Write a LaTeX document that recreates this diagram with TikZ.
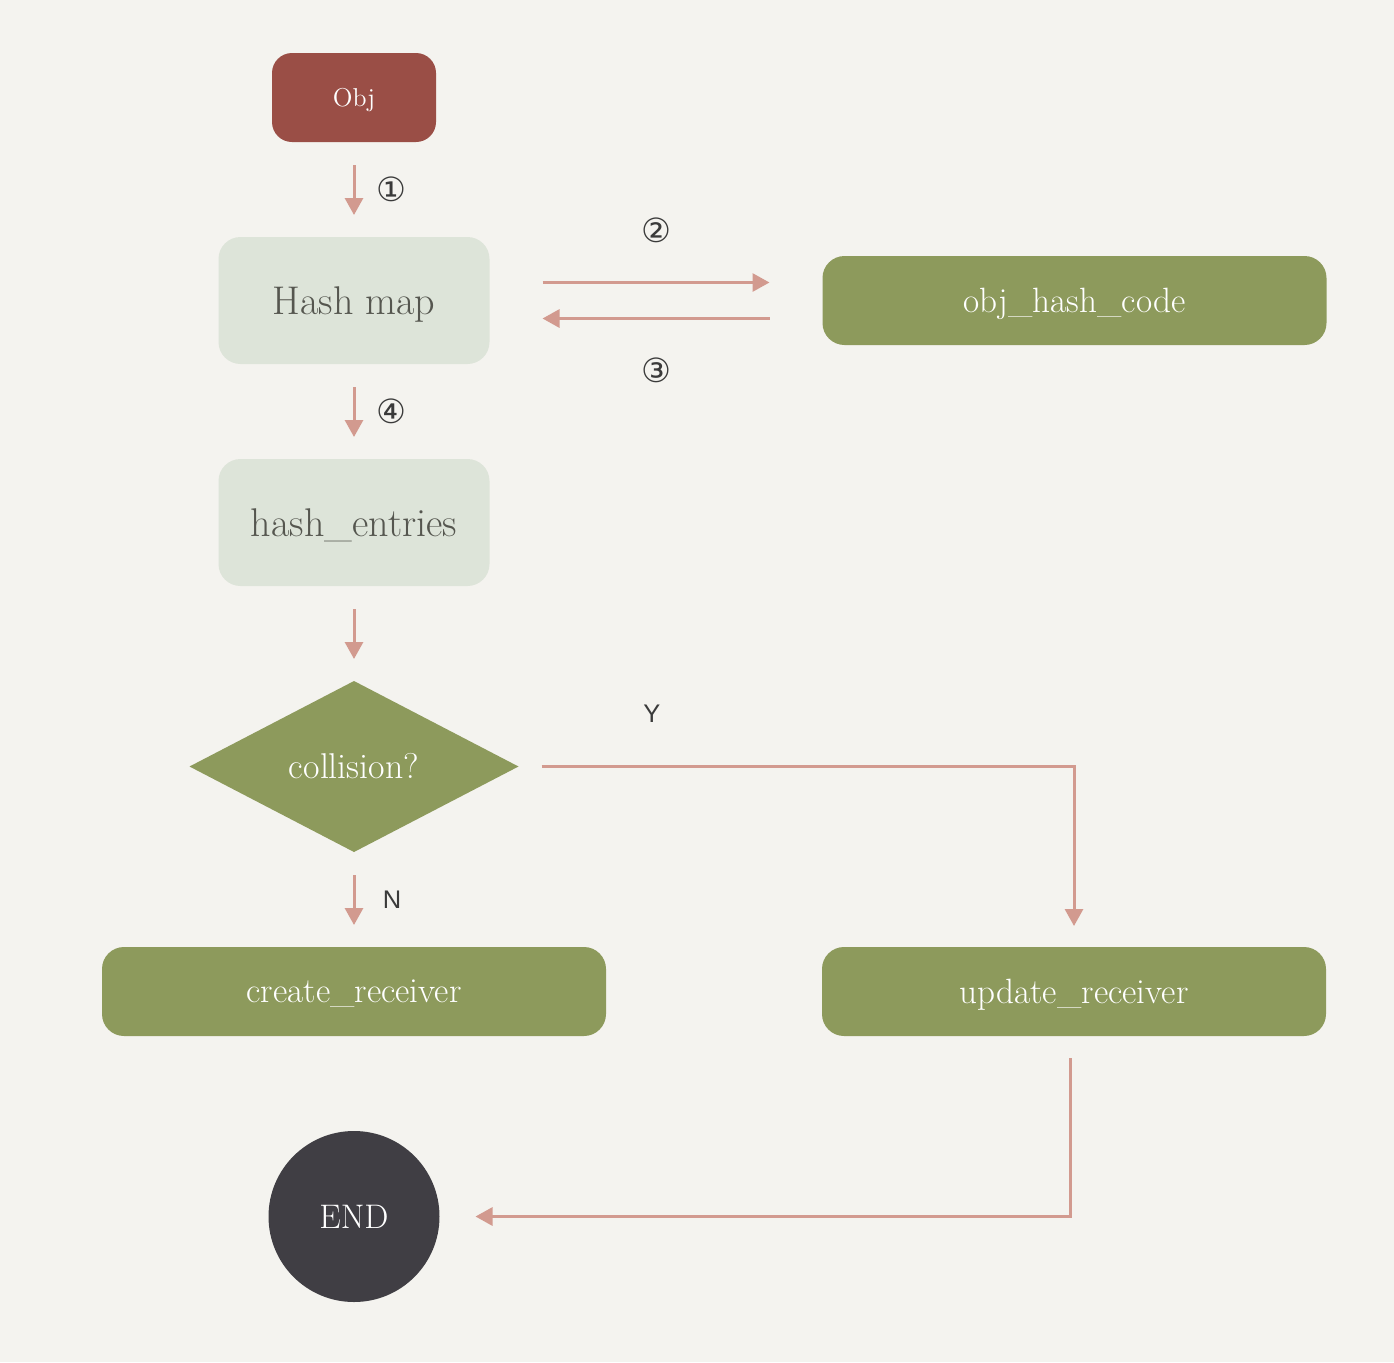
\documentclass[tikz,border=0pt]{standalone}
\usepackage{fontspec}
\newfontfamily\symfont{DejaVu Sans}
\setsansfont{Liberation Sans}
\usepackage{xcolor}
\usepackage{tikz}
\usetikzlibrary{arrows.meta,positioning,shapes.geometric}
\definecolor{paper}{HTML}{F4F3EF}
\definecolor{objred}{HTML}{9A4E46}
\definecolor{mapgreen}{HTML}{DDE4D9}
\definecolor{maptext}{HTML}{55564F}
\definecolor{oliveg}{HTML}{8D9A5C}
\definecolor{endgray}{HTML}{403E44}
\definecolor{arrowpink}{HTML}{D29A8F}
\definecolor{labeltext}{HTML}{3A3A3A}
\tikzstyle{startbox} = [rectangle, rounded corners=0.4cm, outer sep=0pt, text depth=0pt, fill=objred, text=white, minimum width=3.28cm, minimum height=1.78cm, font=\fontsize{14.7pt}{17pt}\selectfont]
\tikzstyle{lightbox} = [rectangle, rounded corners=0.44cm, outer sep=0pt, text depth=0pt, fill=mapgreen, text=maptext, minimum width=5.42cm, minimum height=2.54cm, font=\fontsize{22.8pt}{26pt}\selectfont]
\tikzstyle{olivebox} = [rectangle, rounded corners=0.44cm, outer sep=0pt, text depth=0pt, fill=oliveg, text=white, minimum width=10.08cm, minimum height=1.78cm, font=\fontsize{20pt}{24pt}\selectfont]
\tikzstyle{decision} = [diamond, shape aspect=2, inner sep=0pt, outer sep=0pt, fill=oliveg, text=white, minimum width=6.58cm, minimum height=3.42cm, font=\fontsize{20.4pt}{24pt}\selectfont]
\tikzstyle{endcircle} = [circle, fill=endgray, text=white, minimum size=3.42cm, inner sep=0pt, outer sep=0pt, font=\fontsize{19.4pt}{23pt}\selectfont]
\tikzstyle{arrow} = [-{Triangle[length=0.34cm, width=0.36cm]}, line width=0.06cm, draw=arrowpink, shorten <=0.46cm, shorten >=0.44cm]
\tikzstyle{numlabel} = [text=labeltext, font=\symfont\fontsize{19pt}{21pt}\selectfont]
\tikzstyle{flaglabel} = [text=labeltext, font=\sffamily\fontsize{14.5pt}{16pt}\selectfont]

\begin{document}
\begin{tikzpicture}[node distance=1.9cm]
\fill[paper] (0,0) rectangle (27.88,-27.24);
\useasboundingbox (0,0) rectangle (27.88,-27.24);

\node[startbox] (obj) at (7.08,-1.95) {Obj};
\node[lightbox, below=of obj] (hashmap) {Hash map};
\node[olivebox, right=6.66cm of hashmap] (hashcode) {obj\_hash\_code};
\node[lightbox, below=of hashmap] (entries) {hash\_entries};
\node[decision, below=of entries] (collision) {collision?};
\node[olivebox, below=of collision] (create) {create\_receiver};
\node[olivebox, right=4.32cm of create] (update) {update\_receiver};
\node[endcircle, below=of create] (endnode) {END};

\draw[arrow] (obj) -- node[numlabel, xshift=0.74cm] {①} (hashmap);
\draw[arrow, shorten <=1.06cm, shorten >=1.06cm] ([yshift=0.36cm]hashmap.east) -- node[numlabel, yshift=1.04cm] {②} ([yshift=0.36cm]hashcode.west);
\draw[arrow, shorten <=1.06cm, shorten >=1.06cm] ([yshift=-0.36cm]hashcode.west) -- node[numlabel, yshift=-1.04cm] {③} ([yshift=-0.36cm]hashmap.east);
\draw[arrow] (hashmap) -- node[numlabel, xshift=0.74cm] {④} (entries);
\draw[arrow] (entries) -- (collision);
\draw[arrow, shorten >=0.42cm] (collision.east) -| node[flaglabel, pos=0.12, yshift=1.06cm] {Y} (update.north);
\draw[arrow] (collision) -- node[flaglabel, xshift=0.76cm] {N} (create);
\draw[arrow, shorten <=0.44cm, shorten >=0.72cm] ([xshift=-0.08cm]update.south) |- (endnode);
\end{tikzpicture}
\end{document}
